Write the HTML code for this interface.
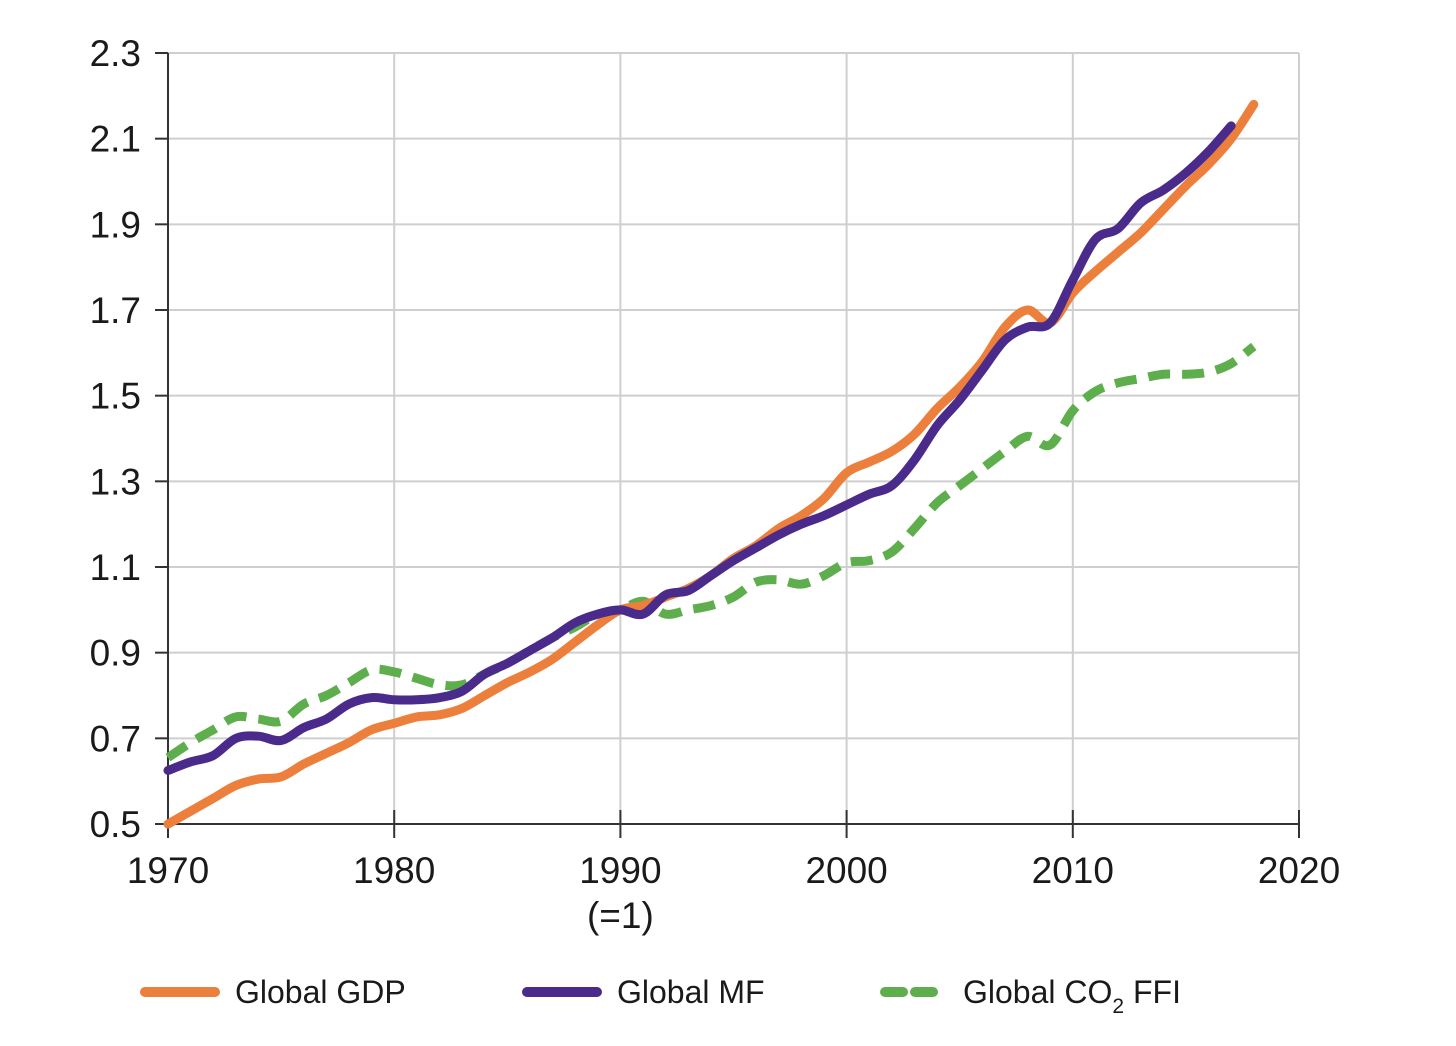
<!DOCTYPE html>
<html><head><meta charset="utf-8"><style>
body{margin:0;background:#fff;}
svg text{font-family:"Liberation Sans",sans-serif;fill:#1a1a1a;}
</style></head><body>
<svg width="1456" height="1041">
<g id="grid"></g>
<g id="axes"></g>
<g id="series"></g>
<g>
 <g><line x1="145" y1="992" x2="215" y2="992" stroke="#ec7f3c" stroke-width="10" stroke-linecap="round"/><text x="235" y="1003" font-size="32">Global GDP</text></g>
 <g><line x1="527" y1="992" x2="597" y2="992" stroke="#4a2a8a" stroke-width="10" stroke-linecap="round"/><text x="617" y="1003" font-size="32">Global MF</text></g>
 <g><line x1="885" y1="992" x2="945" y2="992" stroke="#5fae4e" stroke-width="10" stroke-dasharray="18 12" stroke-linecap="round"/><text x="963" y="1003" font-size="32">Global CO<tspan font-size="21" dy="10">2</tspan><tspan dy="-10"> FFI</tspan></text></g>
</g>
</svg>
<script>
const yearStart = 1970;
const gdp = [0.50,0.53,0.56,0.59,0.605,0.61,0.64,0.665,0.69,0.72,0.735,0.75,0.755,0.77,0.80,0.83,0.855,0.885,0.925,0.965,1.00,1.01,1.03,1.05,1.08,1.12,1.15,1.19,1.22,1.26,1.32,1.345,1.37,1.41,1.47,1.52,1.58,1.66,1.70,1.67,1.74,1.79,1.835,1.88,1.935,1.99,2.04,2.10,2.18];
const mf = [0.625,0.645,0.66,0.70,0.705,0.695,0.725,0.745,0.78,0.795,0.79,0.79,0.795,0.81,0.85,0.875,0.905,0.935,0.97,0.99,1.00,0.99,1.035,1.045,1.08,1.115,1.145,1.175,1.20,1.22,1.245,1.27,1.29,1.35,1.43,1.49,1.56,1.63,1.66,1.67,1.77,1.865,1.89,1.95,1.98,2.02,2.07,2.13];
const co2 = [0.655,0.69,0.72,0.75,0.745,0.74,0.78,0.80,0.83,0.86,0.855,0.84,0.825,0.825,0.85,0.875,0.905,0.935,0.96,0.99,1.00,1.02,0.99,1.00,1.01,1.03,1.065,1.07,1.06,1.08,1.11,1.115,1.135,1.19,1.25,1.29,1.33,1.37,1.405,1.385,1.465,1.51,1.53,1.54,1.55,1.55,1.555,1.575,1.615];
const yTicks = [0.5,0.7,0.9,1.1,1.3,1.5,1.7,1.9,2.1,2.3];
const xTicks = [1970,1980,1990,2000,2010,2020];
const NS='http://www.w3.org/2000/svg';
const X=y=>168+(y-1970)*(1299-168)/50;
const Y=v=>824-(v-0.5)*(824-53)/1.8;
function mk(t,a,p){const e=document.createElementNS(NS,t);for(const k in a)e.setAttribute(k,a[k]);p.appendChild(e);return e;}
const grid=document.getElementById('grid'),axes=document.getElementById('axes'),ser=document.getElementById('series');
yTicks.forEach(v=>{
 if(v>0.5){const l=mk('line',{x1:168,x2:1299,y1:Y(v),y2:Y(v),stroke:'#cfcfcf','stroke-width':2},grid);
 
 }
 const t=mk('line',{x1:155,x2:168,y1:Y(v),y2:Y(v),stroke:'#333','stroke-width':2},axes);
 
 
 const tx=mk('text',{x:141,y:Y(v)+13,'font-size':37,'text-anchor':'end'},axes);tx.textContent=v.toFixed(1);
 
 
});
xTicks.forEach(yr=>{
 if(yr>1970){const l=mk('line',{x1:X(yr),x2:X(yr),y1:53,y2:824,stroke:'#cfcfcf','stroke-width':2},grid);
 
 }
 const t=mk('line',{x1:X(yr),x2:X(yr),y1:810,y2:838,stroke:'#333','stroke-width':2},axes);
 
 
 const tx=mk('text',{x:X(yr),y:883,'font-size':37,'text-anchor':'middle'},axes);tx.textContent=yr;
 
 
});
const sub=mk('text',{x:X(1990),y:928,'font-size':37,'text-anchor':'middle'},axes);sub.textContent='(=1)';


const ya=mk('line',{x1:168,x2:168,y1:53,y2:824,stroke:'#333','stroke-width':2},axes);


const xa=mk('line',{x1:168,x2:1299,y1:824,y2:824,stroke:'#333','stroke-width':2},axes);


function path(vals){
 const p=vals.map((v,i)=>[X(yearStart+i),Y(v)]);
 let d='M'+p[0][0]+','+p[0][1];
 for(let i=0;i<p.length-1;i++){
  const p0=p[i-1]||p[i],p1=p[i],p2=p[i+1],p3=p[i+2]||p2;
  const c1=[p1[0]+(p2[0]-p0[0])/6,p1[1]+(p2[1]-p0[1])/6];
  const c2=[p2[0]-(p3[0]-p1[0])/6,p2[1]-(p3[1]-p1[1])/6];
  d+=`C${c1[0]},${c1[1]} ${c2[0]},${c2[1]} ${p2[0]},${p2[1]}`;
 }
 return d;
}
const c=mk('path',{d:path(co2),fill:'none',stroke:'#5fae4e','stroke-width':9,'stroke-dasharray':'22 12'},ser);


const g=mk('path',{d:path(gdp),fill:'none',stroke:'#ec7f3c','stroke-width':9,'stroke-linecap':'round'},ser);


const m=mk('path',{d:path(mf),fill:'none',stroke:'#4a2a8a','stroke-width':9,'stroke-linecap':'round'},ser);


</script>
</body></html>
